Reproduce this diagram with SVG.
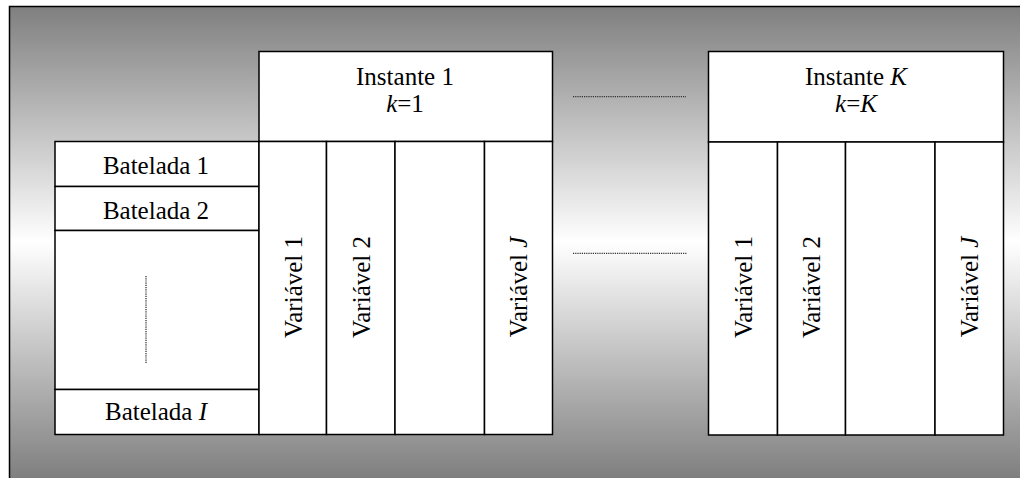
<svg xmlns="http://www.w3.org/2000/svg" width="1020" height="478" viewBox="0 0 1020 478">
<defs>
<linearGradient id="bg" gradientUnits="userSpaceOnUse" x1="0" y1="6" x2="0" y2="478">
<stop offset="0" stop-color="#7f7f7f"/>
<stop offset="0.5" stop-color="#ffffff"/>
<stop offset="1" stop-color="#7f7f7f"/>
</linearGradient>
</defs>
<style>
.box{fill:#fff;stroke:#000;stroke-width:1.5}
.t{font-family:"Liberation Serif","Times New Roman",serif;font-size:25px;fill:#000}
.c{text-anchor:middle}
.dot{stroke:#333;stroke-width:1.3;stroke-dasharray:1.2 1;fill:none}
</style>
<rect x="9.5" y="6.5" width="1020" height="480" fill="url(#bg)" stroke="#000" stroke-width="1.5"/>

<g id="bateladas">
<rect class="box" x="55" y="141.5" width="204" height="45"/>
<text class="t c" x="156" y="173.5">Batelada 1</text>
<rect class="box" x="55" y="186.5" width="204" height="44"/>
<text class="t c" x="156" y="218.5">Batelada 2</text>
<rect class="box" x="55" y="230.5" width="204" height="159"/>
<line class="dot" x1="146" y1="276" x2="146" y2="364"/>
<rect class="box" x="55" y="389.5" width="204" height="45"/>
<text class="t c" x="156" y="419.5">Batelada <tspan font-style="italic">I</tspan></text>
</g>

<g id="instante1">
<rect class="box" x="259" y="51.5" width="293.5" height="90"/>
<text class="t c" x="405" y="84.5">Instante 1</text>
<text class="t c" x="405" y="111.5"><tspan font-style="italic">k</tspan>=1</text>
<rect class="box" x="259" y="141.5" width="67.5" height="293"/>
<rect class="box" x="326.5" y="141.5" width="68.5" height="293"/>
<rect class="box" x="395" y="141.5" width="89.5" height="293"/>
<rect class="box" x="484.5" y="141.5" width="68" height="293"/>
<text class="t c" transform="translate(301.5,287) rotate(-90)">Variável 1</text>
<text class="t c" transform="translate(369.5,287) rotate(-90)">Variável 2</text>
<text class="t c" transform="translate(527,287) rotate(-90)">Variável <tspan font-style="italic">J</tspan></text>
</g>

<g id="instanteK">
<rect class="box" x="708.5" y="51.5" width="295" height="90.5"/>
<text class="t c" x="856" y="84.5">Instante <tspan font-style="italic">K</tspan></text>
<text class="t c" x="856" y="111.5"><tspan font-style="italic">k</tspan>=<tspan font-style="italic">K</tspan></text>
<rect class="box" x="708.5" y="142" width="69" height="293"/>
<rect class="box" x="777.5" y="142" width="68" height="293"/>
<rect class="box" x="845.5" y="142" width="89.5" height="293"/>
<rect class="box" x="935" y="142" width="68.5" height="293"/>
<text class="t c" transform="translate(751.5,287) rotate(-90)">Variável 1</text>
<text class="t c" transform="translate(820,287) rotate(-90)">Variável 2</text>
<text class="t c" transform="translate(978,287) rotate(-90)">Variável <tspan font-style="italic">J</tspan></text>
</g>

<g id="connectors">
<line class="dot" x1="573" y1="96.7" x2="686" y2="96.7"/>
<line class="dot" x1="573" y1="253.3" x2="687" y2="253.3"/>
</g>
</svg>
